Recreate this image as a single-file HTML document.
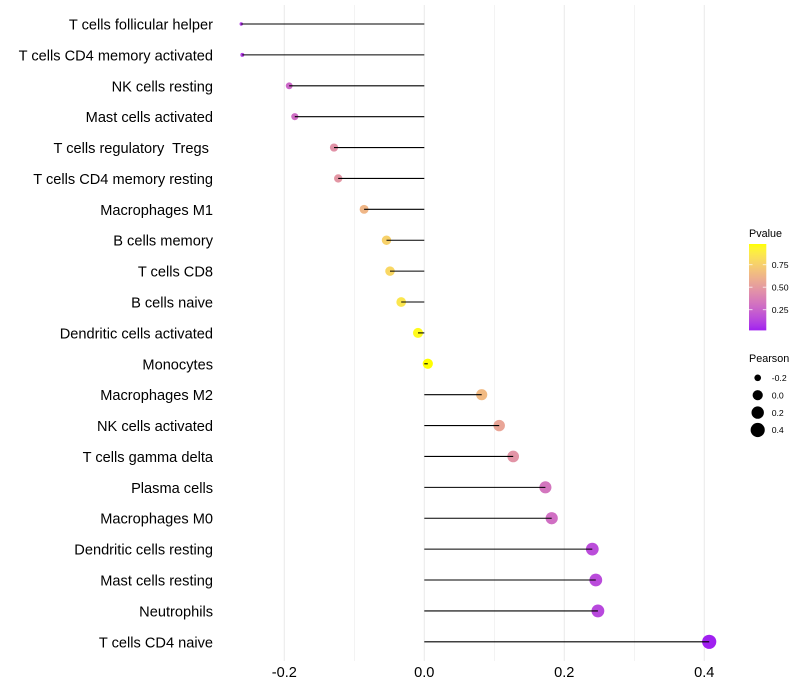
<!DOCTYPE html>
<html>
<head>
<meta charset="utf-8">
<style>
html,body{margin:0;padding:0;background:#fff;}
svg{display:block;font-family:"Liberation Sans",sans-serif;}
</style>
</head>
<body>
<svg id="chart" width="800" height="700" viewBox="0 0 800 700" xmlns="http://www.w3.org/2000/svg">
<rect width="800" height="700" fill="#fff"/>
<defs>
<linearGradient id="pvalue-gradient" x1="0" y1="1" x2="0" y2="0"></linearGradient>
</defs>
<g id="grid"></g>
<g id="points"></g>
<g id="segments"></g>
<g id="ylabels"></g>
<g id="xlabels"></g>
<g id="color-legend"></g>
<g id="size-legend"></g>
</svg>
<script>
var categories = ["T cells follicular helper","T cells CD4 memory activated","NK cells resting","Mast cells activated","T cells regulatory  Tregs ","T cells CD4 memory resting","Macrophages M1","B cells memory","T cells CD8","B cells naive","Dendritic cells activated","Monocytes","Macrophages M2","NK cells activated","T cells gamma delta","Plasma cells","Macrophages M0","Dendritic cells resting","Mast cells resting","Neutrophils","T cells CD4 naive"];
var pearson = [-0.2615,-0.26,-0.193,-0.185,-0.129,-0.123,-0.086,-0.054,-0.049,-0.033,-0.009,0.005,0.082,0.107,0.127,0.173,0.182,0.24,0.245,0.248,0.407];
var pvalue = [0.09,0.10,0.27,0.29,0.46,0.48,0.63,0.76,0.79,0.86,0.96,0.98,0.65,0.55,0.47,0.33,0.30,0.16,0.15,0.14,0.02];
var xTicks = [-0.2,0,0.2,0.4];
var xMinor = [-0.1,0.1,0.3];
var pvalueTicks = [0.25,0.5,0.75];
var pearsonLegend = [-0.2,0,0.2,0.4];

var NS = "http://www.w3.org/2000/svg";
function mk(parent, tag, attrs){
  var e = document.createElementNS(NS, tag);
  for (var k in attrs) e.setAttribute(k, attrs[k]);
  parent.appendChild(e);
  return e;
}
function x(v){ return 424.3 + v * 700; }
function y(i){ return 24 + i * 30.89; }
var pearsonMin = Math.min.apply(null, pearson), pearsonMax = Math.max.apply(null, pearson);
var pMin = Math.min.apply(null, pvalue), pMax = Math.max.apply(null, pvalue);
function radius(v){
  var t = Math.max(0, (v - pearsonMin) / (pearsonMax - pearsonMin));
  return 1.7 + 5.4 * Math.sqrt(t);
}
function toLab(c){
  var r = c.map(function(u){ u/=255; return u>0.04045?Math.pow((u+0.055)/1.055,2.4):u/12.92; });
  var X=(0.4124*r[0]+0.3576*r[1]+0.1805*r[2])/0.95047, Y=0.2126*r[0]+0.7152*r[1]+0.0722*r[2], Z=(0.0193*r[0]+0.1192*r[1]+0.9505*r[2])/1.08883;
  var f=function(t){return t>0.008856?Math.cbrt(t):7.787*t+16/116;};
  return [116*f(Y)-16,500*(f(X)-f(Y)),200*(f(Y)-f(Z))];
}
function fromLab(l){
  var fy=(l[0]+16)/116, fx=fy+l[1]/500, fz=fy-l[2]/200;
  var g=function(t){return t*t*t>0.008856?t*t*t:(t-16/116)/7.787;};
  var X=g(fx)*0.95047,Y=g(fy),Z=g(fz)*1.08883;
  var r=[3.2406*X-1.5372*Y-0.4986*Z,-0.9689*X+1.8758*Y+0.0415*Z,0.0557*X-0.2040*Y+1.0570*Z];
  return "rgb("+r.map(function(u){u=Math.max(0,Math.min(1,u));u=u>0.0031308?1.055*Math.pow(u,1/2.4)-0.055:12.92*u;return Math.round(u*255);}).join(",")+")";
}
var labLow = toLab([160,32,240]), labHigh = toLab([255,255,0]);
function ramp(t){ return fromLab(labLow.map(function(a,i){return a+(labHigh[i]-a)*t;})); }
function color(p){ return ramp((p - pMin) / (pMax - pMin)); }

var grid = document.getElementById("grid");
xTicks.concat(xMinor).forEach(function(v){
  var l = mk(grid, "line", {x1:x(v), x2:x(v), y1:5, y2:661, stroke:"#ebebeb", "stroke-width":xTicks.indexOf(v)>=0?1.07:0.6});
  
  
});

var gp = document.getElementById("points"), gs = document.getElementById("segments"), gy = document.getElementById("ylabels");
categories.forEach(function(c,i){
  var pt = mk(gp, "circle", {cx:x(pearson[i]), cy:y(i), r:radius(pearson[i]), fill:color(pvalue[i])});
  
  
  var sg = mk(gs, "line", {x1:x(0), x2:x(pearson[i]), y1:y(i), y2:y(i), stroke:"#000", "stroke-width":1.07});
  
  
  var t = mk(gy, "text", {x:213, y:y(i)+5.5, "text-anchor":"end", "font-size":14.6, fill:"#000"});
  
  
  t.setAttribute("xml:space","preserve");
  t.style.whiteSpace = "pre";
  t.textContent = c;
});

var gx = document.getElementById("xlabels");
xTicks.forEach(function(v){
  var t = mk(gx, "text", {x:x(v), y:677, "text-anchor":"middle", "font-size":14.6, fill:"#000"});
  
  
  t.textContent = v.toFixed(1);
});

var grad = document.getElementById("pvalue-gradient");
var stopsN = 20;
for (var s = 0; s <= stopsN; s++){
  mk(grad, "stop", {offset:(s/stopsN*100)+"%", "stop-color":ramp(s/stopsN)});
}
var cl = document.getElementById("color-legend");
var ct = mk(cl, "text", {x:749, y:237, "font-size":10.8, fill:"#000"});


ct.textContent = "Pvalue";
var bar = mk(cl, "rect", {x:749, y:244, width:17.3, height:86.4, fill:"url(#pvalue-gradient)"});


function barY(p){ return 244 + (pMax - p) / (pMax - pMin) * 86.4; }
pvalueTicks.forEach(function(p){
  var a = mk(cl, "line", {x1:749, x2:752.5, y1:barY(p), y2:barY(p), stroke:"#fff", "stroke-width":0.9, "stroke-opacity":0.8});
  
  
  var b = mk(cl, "line", {x1:762.8, x2:766.3, y1:barY(p), y2:barY(p), stroke:"#fff", "stroke-width":0.9, "stroke-opacity":0.8});
  
  
  var t = mk(cl, "text", {x:771.7, y:barY(p)+3.2, "font-size":8.7, fill:"#000"});
  
  
  t.textContent = p.toFixed(2);
});

var sl = document.getElementById("size-legend");
var st = mk(sl, "text", {x:749, y:362, "font-size":10.8, fill:"#000"});


st.textContent = "Pearson";
pearsonLegend.forEach(function(v,i){
  var cy = 377.8 + i * 17.4;
  var d = mk(sl, "circle", {cx:757.7, cy:cy, r:radius(v), fill:"#000"});
  
  
  var t = mk(sl, "text", {x:771.7, y:cy+3.2, "font-size":8.7, fill:"#000"});
  
  
  t.textContent = v.toFixed(1);
});
</script>
</body>
</html>
